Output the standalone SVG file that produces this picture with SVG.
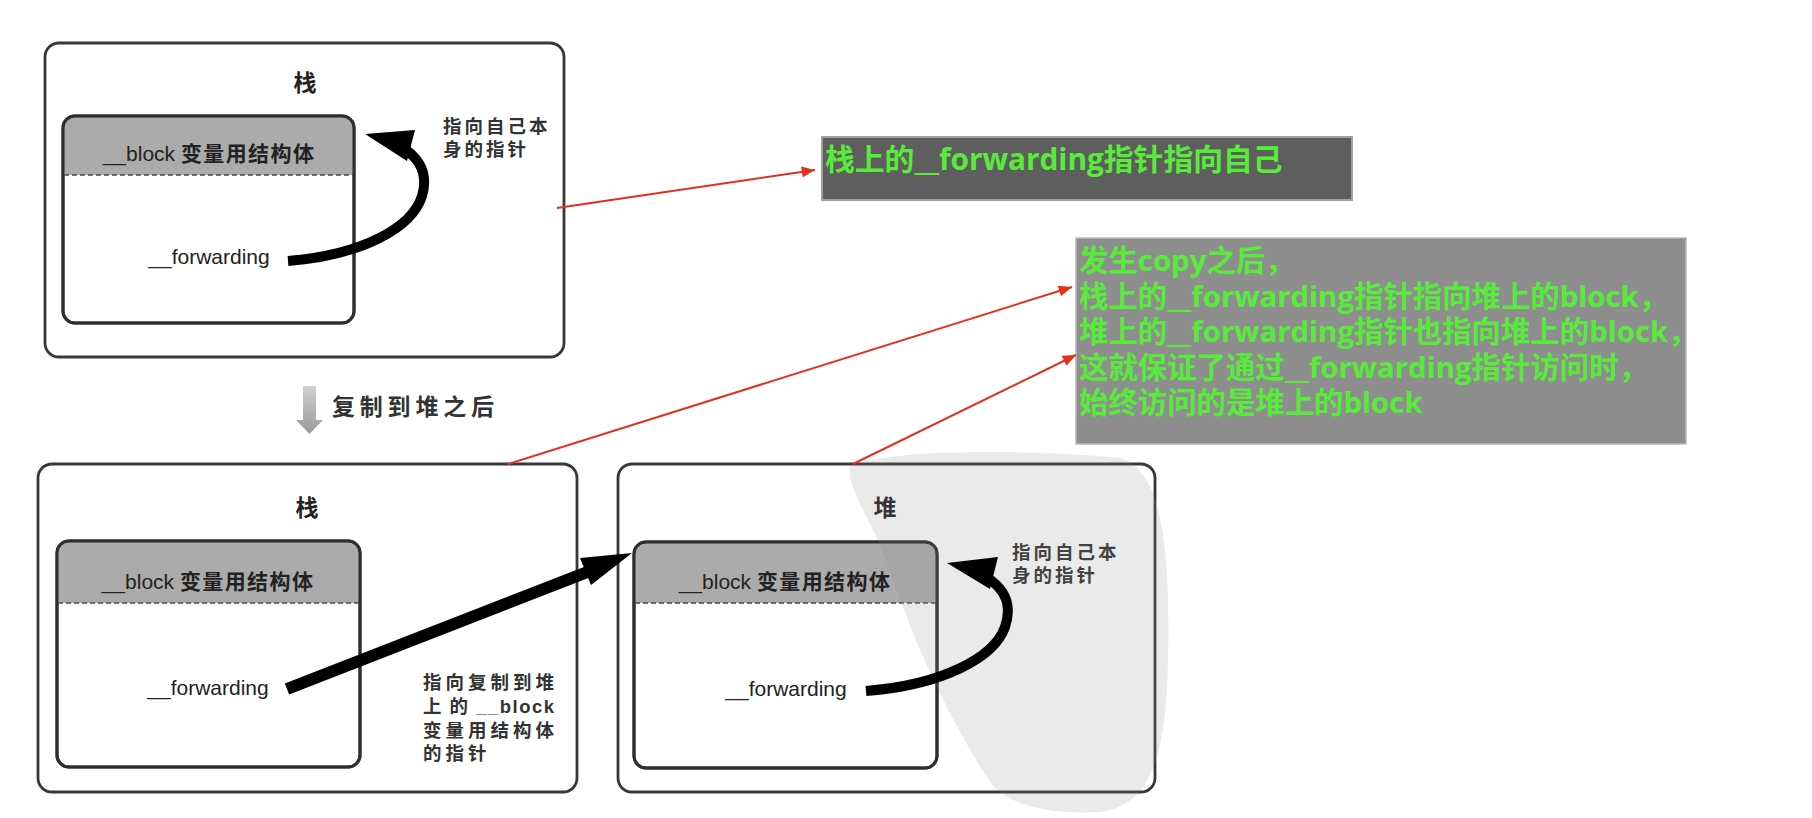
<svg xmlns="http://www.w3.org/2000/svg" width="1812" height="818" viewBox="0 0 1812 818">
<style>
.outer{fill:#ffffff;stroke:#383838;stroke-width:2.8}
.inner{fill:#ffffff;stroke:#2e2e2e;stroke-width:3}
.hdr{fill:#ababab}
.dash{stroke:#4a4a4a;stroke-width:1.5;stroke-dasharray:5 3;fill:none}
.title{font-family:"Noto Sans CJK SC",sans-serif;font-weight:700;font-size:23px;fill:#222;text-anchor:middle}
.hdrtxt{font-family:"Liberation Sans","Noto Sans CJK SC",sans-serif;font-size:21px;fill:#222;text-anchor:middle}
.cjkb{font-family:"Noto Sans CJK SC",sans-serif;font-weight:700;letter-spacing:1.4px}
.fwd{font-family:"Liberation Sans",sans-serif;font-size:21px;fill:#222;text-anchor:middle}
.lbl{font-family:"Liberation Sans","Noto Sans CJK SC",sans-serif;font-weight:700;font-size:18.5px;fill:#333;letter-spacing:3px}
.lbl2{letter-spacing:4px}
.note{font-family:"Open Sans","Noto Sans CJK SC",sans-serif;font-weight:700;font-size:29.4px;fill:#58ec3a}
.red{stroke:#e3301c;stroke-width:2;fill:none}
.thick{stroke:#000;fill:none;stroke-linecap:butt}
</style>
<defs>
<marker id="redhead" viewBox="0 0 12 10" refX="12" refY="5" markerWidth="14" markerHeight="11" markerUnits="userSpaceOnUse" orient="auto">
<path d="M0,0 L12,5 L0,10 Z" fill="#e3301c"/>
</marker>
<linearGradient id="downg" x1="0" y1="0" x2="0" y2="1">
<stop offset="0" stop-color="#d0d0d0"/>
<stop offset="1" stop-color="#9a9a9a"/>
</linearGradient>
</defs>
<rect width="1812" height="818" fill="#ffffff"/>

<g id="stack-top">
<rect class="outer" x="45" y="43" width="519" height="314" rx="14"/>
<text class="title" x="305" y="91">栈</text>
<rect class="inner" x="63" y="116" width="291" height="207" rx="12"/>
<path class="hdr" d="M64.5,175 V128 Q64.5,117.5 76,117.5 H341 Q352.5,117.5 352.5,128 V175 Z"/>
<rect x="63" y="116" width="291" height="207" rx="12" fill="none" stroke="#2e2e2e" stroke-width="3"/>
<line class="dash" x1="64" y1="175" x2="353" y2="175"/>
<text class="hdrtxt" x="209" y="161">__block <tspan class="cjkb">变量用结构体</tspan></text>
<text class="fwd" x="209" y="264">__forwarding</text>
<text class="lbl" x="443" y="133">指向自己本<tspan x="443" dy="23">身的指针</tspan></text>
</g>

<g id="copy-step">
<path d="M303,386 H316 V420 H323 L309.5,434 L296,420 H303 Z" fill="url(#downg)"/>
<text x="332" y="415" font-family="Noto Sans CJK SC, sans-serif" font-weight="700" font-size="23" letter-spacing="4.8" fill="#333">复制到堆之后</text>
</g>

<g id="stack-bottom">
<rect class="outer" x="38" y="464" width="539" height="328" rx="14"/>
<text class="title" x="307" y="516">栈</text>
<rect class="inner" x="57" y="541" width="303" height="226" rx="12"/>
<path class="hdr" d="M58.5,603 V553 Q58.5,542.5 70,542.5 H347 Q358.5,542.5 358.5,553 V603 Z"/>
<rect x="57" y="541" width="303" height="226" rx="12" fill="none" stroke="#2e2e2e" stroke-width="3"/>
<line class="dash" x1="58" y1="603" x2="359" y2="603"/>
<text class="hdrtxt" x="208" y="589">__block <tspan class="cjkb">变量用结构体</tspan></text>
<text class="fwd" x="208" y="695">__forwarding</text>
<text class="lbl lbl2" x="423" y="689">指向复制到堆<tspan x="423" dy="24" textLength="134" lengthAdjust="spacing" style="letter-spacing:3px">上 的 __block</tspan><tspan x="423" dy="24">变量用结构体</tspan><tspan x="423" dy="23">的指针</tspan></text>
</g>

<g id="heap">
<rect class="outer" x="618" y="464" width="537" height="328" rx="14"/>
<text class="title" x="885" y="516">堆</text>
<rect class="inner" x="634" y="542" width="303" height="226" rx="12"/>
<path class="hdr" d="M635.5,603 V554 Q635.5,543.5 647,543.5 H924 Q935.5,543.5 935.5,554 V603 Z"/>
<rect x="634" y="542" width="303" height="226" rx="12" fill="none" stroke="#2e2e2e" stroke-width="3"/>
<line class="dash" x1="635" y1="603" x2="936" y2="603"/>
<text class="hdrtxt" x="785" y="589">__block <tspan class="cjkb">变量用结构体</tspan></text>
<text class="fwd" x="786" y="696">__forwarding</text>
<text class="lbl" x="1012" y="559">指向自己本<tspan x="1012" dy="23">身的指针</tspan></text>
</g>

<path id="watermark" d="M850,466 C880,452 1000,447 1120,458 C1165,470 1170,560 1168,660 C1166,760 1150,805 1100,812 C1040,815 1005,802 990,782 C940,705 908,625 888,565 C872,520 846,488 850,466 Z" fill="#8a8a8a" fill-opacity="0.18"/>

<g id="note-stack">
<rect x="822" y="137" width="530" height="63" fill="#5e5e5e" stroke="#a0a0a0" stroke-width="2"/>
<text class="note" x="825" y="170" style="font-size:29.8px">栈上的__forwarding指针指向自己</text>
</g>

<g id="note-copy">
<rect x="1076" y="238" width="610" height="206" fill="#8e8e8e" stroke="#b8b8b8" stroke-width="1.5"/>
<text class="note" x="1079" y="271">发生copy之后，<tspan x="1079" dy="36">栈上的__forwarding指针指向堆上的block，</tspan><tspan x="1079" dy="35">堆上的__forwarding指针也指向堆上的block，</tspan><tspan x="1079" dy="36">这就保证了通过__forwarding指针访问时，</tspan><tspan x="1079" dy="35">始终访问的是堆上的block</tspan></text>
</g>

<g id="connectors">
<path class="thick" stroke-width="10" d="M288,261 C362,255 412,228 422,196 C428,176 422,160 402,147"/>
<polygon points="365,134 415,130 407,161" fill="#000"/>
<line class="thick" stroke-width="12" x1="287" y1="689" x2="590" y2="571"/>
<polygon points="632,553 580,558 591,585" fill="#000"/>
<path class="thick" stroke-width="10" d="M866,691 C942,685 994,658 1005,627 C1012,606 1007,590 986,577"/>
<polygon points="947,563 998,557 990,589" fill="#000"/>
<line class="red" x1="557" y1="208" x2="815" y2="170" marker-end="url(#redhead)"/>
<line class="red" x1="508" y1="464" x2="1072" y2="287" marker-end="url(#redhead)"/>
<line class="red" x1="853" y1="464" x2="1076" y2="355" marker-end="url(#redhead)"/>
</g>
</svg>
